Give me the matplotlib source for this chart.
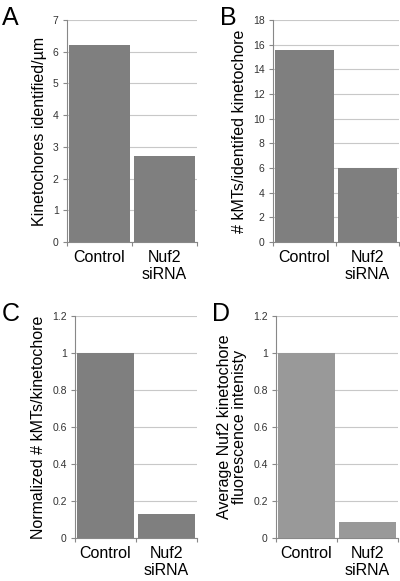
import matplotlib
matplotlib.use("Agg")
import matplotlib.pyplot as plt

plt.rcParams['font.family'] = ['Liberation Sans', 'DejaVu Sans']

categories = ['Control', 'Nuf2\nsiRNA']

kt_per_um = [6.2, 2.7]
kmts_per_kt = [15.6, 6.0]
norm_kmts = [1.0, 0.13]
nuf2_intensity = [1.0, 0.085]

panels = [
    # letter, values, ylabel, ymax, step, ticklabels fmt, colour, axes rect, letter x
    ('A', kt_per_um, 'Kinetochores identified/µm', 7, 1, '{:.0f}', '#7f7f7f',
     [0.1675, 0.5835, 0.325, 0.382], 0.005),
    ('B', kmts_per_kt, '# kMTs/identifed kinetochore', 18, 2, '{:.0f}', '#7f7f7f',
     [0.6825, 0.5835, 0.315, 0.382], 0.55),
    ('C', norm_kmts, 'Normalized # kMTs/kinetochore', 1.2, 0.2, '{:g}', '#7f7f7f',
     [0.1875, 0.074, 0.305, 0.382], 0.005),
    ('D', nuf2_intensity, 'Average Nuf2 kinetochore\nfluorescence intenisty', 1.2, 0.2, '{:g}', '#999999',
     [0.69, 0.074, 0.305, 0.382], 0.53),
]

fig = plt.figure(figsize=(4, 5.81), dpi=100)

for letter, vals, ylab, ymax, step, fmt, col, rect, lx in panels:
    ax = fig.add_axes(rect)
    ax.bar(range(len(vals)), vals, width=0.94, color=col, zorder=3)
    ax.set_xlim(-0.5, 1.5)
    ax.set_ylim(0, ymax)
    n = int(round(ymax / step))
    ticks = [round(i * step, 2) for i in range(n + 1)]
    ax.set_yticks(ticks)
    ax.set_yticklabels([fmt.format(t) for t in ticks], fontsize=7.5, color='#333333')
    ax.yaxis.grid(True, color='#c8c8c8', linewidth=0.8, zorder=0)
    ax.set_xticks([-0.5, 0.5, 1.5])
    ax.set_xticklabels([])
    ax.set_xticks([0, 1], minor=True)
    ax.set_xticklabels(categories, minor=True, fontsize=11.5, linespacing=1.15)
    ax.tick_params(axis='x', which='minor', length=0, pad=6)
    ax.tick_params(axis='x', which='major', length=3, color='#888888')
    ax.tick_params(axis='y', length=3, color='#888888', pad=3)
    for s in ['top', 'right']:
        ax.spines[s].set_visible(False)
    for s in ['left', 'bottom']:
        ax.spines[s].set_color('#888888')
        ax.spines[s].set_linewidth(0.8)
    ax.set_ylabel(ylab, fontsize=11.5, labelpad=4, linespacing=1.0)
    fig.text(lx, rect[1] + rect[3] + 0.025, letter, fontsize=18,
             ha='left', va='top')

fig.savefig('out.png', dpi=100)
